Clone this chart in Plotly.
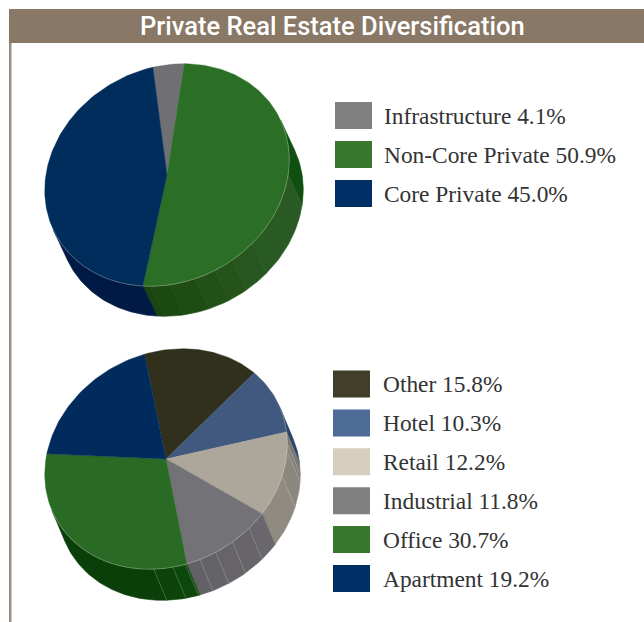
import math
import plotly.graph_objects as go

TITLE = "Private Real Estate Diversification"

# Upper pie
top_names = ["Infrastructure", "Non-Core Private", "Core Private"]
top_values = [4.1, 50.9, 45.0]
top_colors = ["#706f73", "#2b6f27", "#002d5c"]
top_swatches = ["#808080", "#37782d", "#002f66"]
top_wall_breaks = [[], [94, 132, 144, 153, 163, 175, 184], []]
top_wall_colors = [
    ["#5a595c"],
    ["#0f5010", "#2a5a23", "#275620", "#255319", "#225018", "#1f4c15", "#1c4812", "#1a4510"],
    ["#001a45"],
]

# Lower pie
low_names = ["Other", "Hotel", "Retail", "Industrial", "Office", "Apartment"]
low_values = [15.8, 10.3, 12.2, 11.8, 30.7, 19.2]
low_colors = ["#31301d", "#41597f", "#aca79a", "#737277", "#296a24", "#002b5c"]
low_swatches = ["#413f2a", "#4f6b97", "#d6cfc0", "#808080", "#37782d", "#002f66"]
low_wall_breaks = [[], [], [86, 90, 103], [133, 143, 152, 160], [167, 173, 182], []]
low_wall_colors = [
    ["#26251a"],
    ["#2c4468"],
    ["#7d7a71", "#85827a", "#8a877c", "#8f8b80"],
    ["#69676b", "#67656a", "#666468", "#646367", "#626165"],
    ["#0c4a0c", "#0c480b", "#0b430a", "#0a3f0a"],
    ["#001a45"],
]

BAND = "#8a7866"
RULE = "#9c8d7e"
TEXT = "#333333"
SERIF = "Liberation Serif"
SANS = "Roboto"


def project(geo, deg):
    cx, cy, a, b, c, d = geo
    t = math.radians(deg)
    return cx + a * math.sin(t) + b * math.cos(t), cy + d * math.sin(t) - c * math.cos(t)


def arc(geo, a0, a1):
    n = max(2, int(abs(a1 - a0) / 1.5) + 2)
    return [project(geo, a0 + (a1 - a0) * i / (n - 1)) for i in range(n)]


def polygon(fig, pts, color, name, width=0.6):
    fig.add_trace(go.Scatter(
        x=[p[0] for p in pts] + [pts[0][0]],
        y=[p[1] for p in pts] + [pts[0][1]],
        mode="lines", fill="toself", fillcolor=color,
        line=dict(color=color, width=width),
        name=name, hoverinfo="name", showlegend=False))


def draw_pie(fig, values, names, colors, breaks, wall_colors, geo, depth, start, facet_lines):
    total = sum(values)
    ex, ey = depth
    vis0 = math.degrees(math.atan2(ey * geo[2] - ex * geo[5], ey * geo[3] + ex * geo[4]))
    vis1 = vis0 + 180
    edges = [start]
    for v in values:
        edges.append(edges[-1] + 360 * v / total)
    # side walls
    for i, name in enumerate(names):
        lo = max(edges[i], vis0)
        hi = min(edges[i + 1], vis1)
        if hi <= lo:
            continue
        inner = [b for b in breaks[i] if lo < b < hi]
        stops = [lo] + inner + [hi]
        for j in range(len(stops) - 1):
            idx = sum(1 for b in breaks[i] if b <= stops[j])
            col = wall_colors[i][min(idx, len(wall_colors[i]) - 1)]
            rim = arc(geo, stops[j], stops[j + 1])
            floor = [(x + ex, y + ey) for x, y in reversed(rim)]
            polygon(fig, rim + floor, col, name)
        if facet_lines:
            for b in inner:
                p = project(geo, b)
                fig.add_trace(go.Scatter(
                    x=[p[0], p[0] + ex], y=[p[1], p[1] + ey], mode="lines",
                    line=dict(color="rgba(225,225,215,0.3)", width=0.7),
                    hoverinfo="skip", showlegend=False))
    # top face
    for i, name in enumerate(names):
        pts = [(geo[0], geo[1])] + arc(geo, edges[i], edges[i + 1])
        polygon(fig, pts, colors[i], name, width=0.4)
    # light rim over the visible wall
    rim = arc(geo, vis0, vis1)
    fig.add_trace(go.Scatter(
        x=[p[0] for p in rim], y=[p[1] for p in rim], mode="lines",
        line=dict(color="rgba(235,235,225,0.4)", width=0.7),
        hoverinfo="skip", showlegend=False))


fig = go.Figure()
draw_pie(fig, top_values, top_names, top_colors, top_wall_breaks, top_wall_colors,
         (167, 175, 122, 8, 111, -8), (14, 30), -10.4, False)
draw_pie(fig, low_values, low_names, low_colors, low_wall_breaks, low_wall_colors,
         (166, 459, 121, 8, 110, -8), (13, 31), -14, True)

shapes = [
    dict(type="rect", x0=9, x1=644, y0=9, y1=43, fillcolor=BAND, line_width=0),
    dict(type="rect", x0=9, x1=11.5, y0=43, y1=622, fillcolor=RULE, line_width=0),
]
annotations = [dict(x=332, y=26, text=TITLE, showarrow=False,
                    font=dict(family=SANS, size=25.5, color="#ffffff", weight=500))]


def legend(names, values, swatches, x0, tx, y_first, step):
    for i, (n, v, c) in enumerate(zip(names, values, swatches)):
        y = y_first + step * i
        shapes.append(dict(type="rect", x0=x0, x1=x0 + 37, y0=y - 13.5, y1=y + 13.5,
                           fillcolor=c, line_width=0))
        annotations.append(dict(x=tx, y=y, xanchor="left", showarrow=False,
                                text=f"{n} {v:.1f}%",
                                font=dict(family=SERIF, size=23.4, color=TEXT)))


legend(top_names, top_values, top_swatches, 335, 382, 115.5, 39)
legend(low_names, low_values, low_swatches, 333, 380.5, 384, 38.9)

fig.update_layout(
    width=644, height=622, margin=dict(l=0, r=0, t=0, b=0),
    paper_bgcolor="#ffffff", plot_bgcolor="#ffffff", showlegend=False,
    xaxis=dict(range=[0, 644], visible=False, fixedrange=True),
    yaxis=dict(range=[622, 0], visible=False, fixedrange=True),
    shapes=shapes, annotations=annotations,
)
fig.write_html("out.html", config={"displayModeBar": False},
               post_script="document.body.style.margin='0';document.documentElement.style.overflow='hidden';")
